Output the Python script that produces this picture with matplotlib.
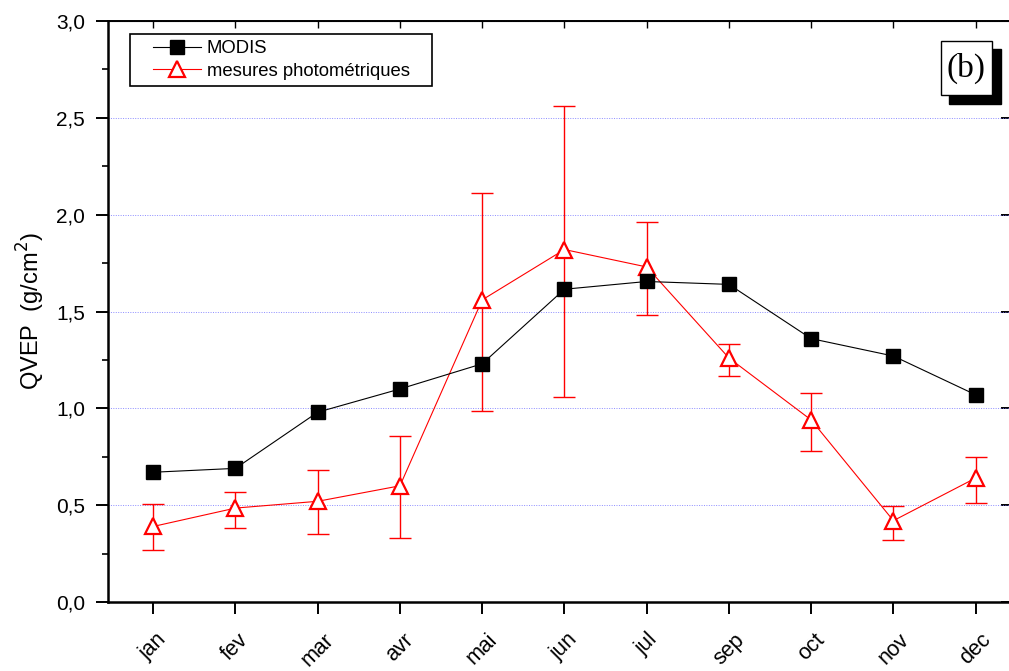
import matplotlib
matplotlib.use("Agg")
import matplotlib.pyplot as plt
from matplotlib.patches import Rectangle
from matplotlib.ticker import FuncFormatter, MultipleLocator
from matplotlib.transforms import ScaledTranslation

plt.rcParams['font.family'] = ['Liberation Sans', 'DejaVu Sans']

# -----------------------
# DATA
# -----------------------
months = ["jan", "fev", "mar", "avr", "mai", "jun", "jul", "sep", "oct", "nov", "dec"]
modis = [0.67, 0.69, 0.98, 1.10, 1.23, 1.615, 1.655, 1.64, 1.36, 1.27, 1.07]
photo = [0.39, 0.485, 0.52, 0.60, 1.56, 1.82, 1.73, 1.26, 0.94, 0.42, 0.64]
photo_hi = [0.505, 0.57, 0.68, 0.855, 2.11, 2.56, 1.96, 1.33, 1.08, 0.495, 0.75]
photo_lo = [0.27, 0.38, 0.35, 0.33, 0.985, 1.057, 1.48, 1.165, 0.78, 0.32, 0.51]

# -----------------------
# PLOT
# -----------------------
W, H = 1009, 671
fig = plt.figure(figsize=(W / 100, H / 100), dpi=100)
ax = fig.add_axes([108 / W, 1 - 602 / H, 903 / W, 581 / H])

x = list(range(len(months)))
err_lo = [p - l for p, l in zip(photo, photo_lo)]
err_hi = [h - p for p, h in zip(photo, photo_hi)]

ax.errorbar(x, photo, yerr=[err_lo, err_hi], fmt='none', ecolor='red',
            elinewidth=1.0, capsize=8, capthick=1.0, zorder=2)
ax.plot(x, photo, color='red', lw=0.8, marker='^', ms=11, mfc='white',
        mec='red', mew=1.6, label='mesures photométriques', zorder=3)
ax.plot(x, modis, color='black', lw=0.8, marker='s', ms=10, mfc='black',
        mec='black', label='MODIS', zorder=4)

ax.set_xlim(-0.55, 10.43)
ax.set_ylim(0, 3.0)

ax.yaxis.set_major_locator(MultipleLocator(0.5))
ax.yaxis.set_minor_locator(MultipleLocator(0.25))
ax.yaxis.set_major_formatter(FuncFormatter(lambda v, p: f"{v:.1f}".replace('.', ',')))
ax.set_xticks(x)
ax.set_xticklabels(months, rotation=45, ha='center')
shift = ScaledTranslation(-8 / 100, 0, fig.dpi_scale_trans)
for lab in ax.get_xticklabels():
    lab.set_transform(lab.get_transform() + shift)

ax.grid(axis='y', which='major', color='#7070ff', ls=(0, (1, 1.5)), lw=0.7, alpha=0.8)
ax.set_axisbelow(True)

for s in ['left', 'bottom']:
    ax.spines[s].set_linewidth(1.8)
ax.spines['top'].set_linewidth(1.4)
ax.spines['right'].set_linewidth(1.4)

ax.tick_params(axis='both', which='major', direction='out', length=8.6, width=1.4)
ax.tick_params(axis='y', which='major', pad=8, labelsize=15)
ax.tick_params(axis='y', which='minor', direction='out', length=4.5, width=1.2)
ax.tick_params(axis='x', which='major', pad=11, labelsize=15.5)

# inward ticks on top/right
ax_t = ax.secondary_xaxis('top')
ax_t.set_xticks(x)
ax_t.tick_params(direction='in', length=5, width=1.0, labeltop=False)
ax_r = ax.secondary_yaxis('right')
ax_r.yaxis.set_major_locator(MultipleLocator(0.5))
ax_r.tick_params(direction='in', length=7, width=1.4, labelright=False)

ax.set_ylabel("QVEP  (g/cm$^2$)", fontsize=17, labelpad=6)

# legend frame drawn by hand, legend text on top of it
ax.add_patch(Rectangle((130 / W, 1 - 86 / H), 302 / W, 52 / H,
                       transform=fig.transFigure, facecolor='white',
                       edgecolor='black', lw=1.2, zorder=4.8, clip_on=False))
handles, labels = ax.get_legend_handles_labels()
leg = ax.legend(handles[::-1], labels[::-1], loc='upper left',
                bbox_to_anchor=(153 / W, 1 - 40 / H), bbox_transform=fig.transFigure,
                fontsize=13.3, frameon=False,
                handlelength=2.6, handletextpad=0.3, borderpad=0,
                labelspacing=0.3, borderaxespad=0)
leg.set_zorder(6)

# (b) panel tag with shadow
ax.add_patch(Rectangle((949 / W, 1 - 104 / H), 52 / W, 55 / H,
                       transform=fig.transFigure, facecolor='black',
                       edgecolor='black', zorder=6, clip_on=False))
ax.add_patch(Rectangle((941 / W, 1 - 95 / H), 51 / W, 54 / H,
                       transform=fig.transFigure, facecolor='white',
                       edgecolor='black', lw=1.0, zorder=7, clip_on=False))
ax.text(966 / W, 1 - 68 / H, "(b)", family=['Liberation Serif', 'DejaVu Serif'],
        fontsize=24, ha='center', va='center', zorder=8, transform=fig.transFigure)

fig.savefig("out.png", dpi=100)
